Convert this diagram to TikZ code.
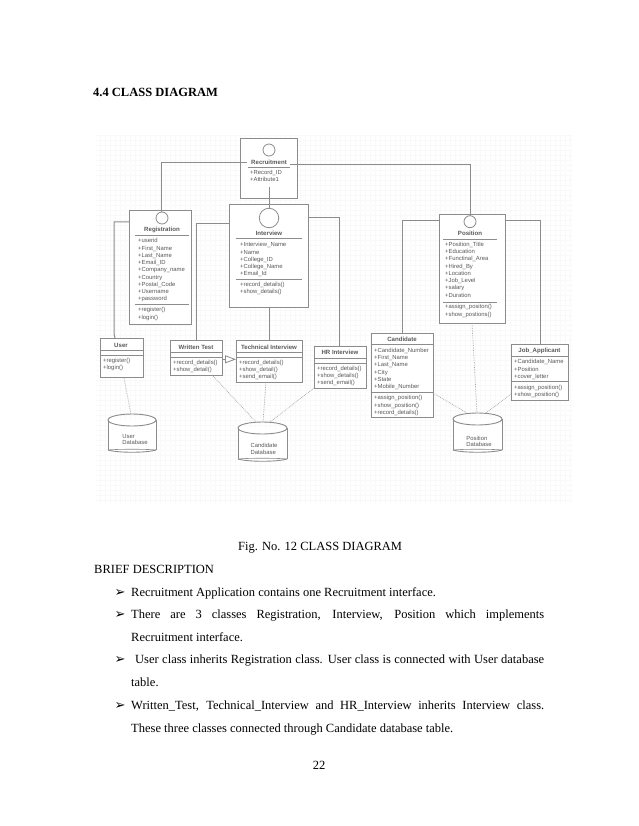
\documentclass[tikz,border=0pt]{standalone}
\usepackage{fontspec}
\setmainfont{Liberation Serif}
\newfontfamily\umlfont{Liberation Sans}
\newfontfamily\dingfont{DejaVu Sans}
\usetikzlibrary{shapes.geometric,arrows.meta}
\definecolor{umlline}{gray}{0.55}
\definecolor{umltext}{gray}{0.35}
\tikzset{
  x=1pt,y=-1pt,
  umlbox/.style={draw=umlline,line width=1pt,fill=white,rectangle,inner sep=0pt,anchor=north west},
  rel/.style={draw=umlline,line width=1pt},
  dep/.style={draw=umlline!80,line width=0.7pt,densely dotted},
  ttl/.style={font=\umlfont\fontsize{6.1}{7}\selectfont\bfseries,text=umltext,inner sep=0pt},
  mem/.style={font=\umlfont\fontsize{5.9}{7.25}\selectfont,text=umltext,inner sep=0pt,anchor=north west,align=left},
  sep/.style={draw=umlline,line width=0.8pt},
  lollipop/.style={circle,draw=umlline,line width=0.8pt,fill=white,inner sep=0pt},
  dbtxt/.style={font=\umlfont\fontsize{5.9}{6.7}\selectfont,text=umltext,inner sep=0pt,align=left},
  body/.style={font=\fontsize{12.5}{15}\selectfont,inner sep=0pt,anchor=base west},
  bul/.style={font=\dingfont\fontsize{13}{15}\selectfont,inner sep=0pt,anchor=base west},
}
\newcommand{\umlcyl}[5]{% name, x, y, w, h
  \fill[white] (#2,#3+6) rectangle (#2+#4,#3+#5);
  \draw[umlline,line width=0.9pt] (#2+#4/2,#3+6) ellipse[x radius=#4/2,y radius=6];
  \draw[umlline,line width=0.9pt] (#2,#3+6) -- (#2,#3+#5-3);
  \draw[umlline,line width=0.9pt] (#2+#4,#3+6) -- (#2+#4,#3+#5-3);
  \draw[umlline,line width=0.6pt] (#2,#3+#5-3) .. controls (#2+#4*0.2,#3+#5-4) and (#2+#4*0.8,#3+#5-4) .. (#2+#4,#3+#5-3);
  \draw[umlline,line width=0.9pt] (#2,#3+#5-3) .. controls (#2+#4*0.2,#3+#5) and (#2+#4*0.8,#3+#5) .. (#2+#4,#3+#5-3);
  \coordinate (#1) at (#2+#4/2,#3);
}
\begin{document}
\begin{tikzpicture}
\useasboundingbox (0,0) rectangle (638,826);
\fill[white] (0,0) rectangle (638,826);
% grid
\draw[gray!5,line width=0.25pt,step=5pt] (96,135) grid (573,503);
% title
\node[body,font=\fontsize{12.5}{15}\selectfont\bfseries] (heading) at (93,97) {4.4 CLASS DIAGRAM};

% boxes
\node[umlbox,minimum width=56.5pt,minimum height=60pt] (rec) at (240,138) {};
\node[umlbox,minimum width=62pt,minimum height=114pt] (reg) at (129,210) {};
\node[umlbox,minimum width=79pt,minimum height=103pt] (int) at (229,204) {};
\node[umlbox,minimum width=66pt,minimum height=109pt] (pos) at (439,214) {};
\node[umlbox,minimum width=43pt,minimum height=39pt] (usr) at (100,338) {};
\node[umlbox,minimum width=52pt,minimum height=35pt] (wt) at (170,340) {};
\node[umlbox,minimum width=66pt,minimum height=42pt] (ti) at (236,340) {};
\node[umlbox,minimum width=52pt,minimum height=42pt] (hr) at (314,346) {};
\node[umlbox,minimum width=62pt,minimum height=84pt] (cand) at (371,333) {};
\node[umlbox,minimum width=57pt,minimum height=56pt] (job) at (511,344) {};

% cylinders
\umlcyl{udb}{108}{414}{48}{39}
\umlcyl{cdb}{238}{422}{49}{40}
\umlcyl{pdb}{453}{413}{49}{40}
\node[dbtxt] (udbt) at (135,439.5) {User\\Database};
\node[dbtxt] (cdbt) at (264,449) {Candidate\\Database};
\node[dbtxt] (pdbt) at (479,441.5) {Position\\Database};

% solid connectors
\draw[rel] (247,163) -- (161,163) -- (161,213);
\draw[rel] (290,165) -- (470,165) -- (470,216);
\draw[rel] (269,187) -- (269,208.5);
\draw[rel] (reg.west |- 0,222) -- (114,222) -- (114,334) -- (115,338);
\draw[rel] (int.west |- 0,224) -- (196,224) -- (196,340);
\draw[rel] (269,307) -- (269,340);
\draw[rel] (int.east |- 0,217.5) -- (339,217.5) -- (339,346);
\draw[rel] (pos.west |- 0,221) -- (402,221) -- (402,333);
\draw[rel] (pos.east |- 0,221) -- (540,221) -- (540,344);

% lollipops
\node[lollipop,minimum size=12pt] (recc) at (269,150) {};
\node[lollipop,minimum size=12pt] (regc) at (162,218) {};
\node[lollipop,minimum size=19.5pt] (intc) at (269,218) {};
\node[lollipop,minimum size=12pt] (posc) at (470,221.7) {};

% dashed connectors
\draw[dep] (usr.south -| 124,0) -- (131,414);
\draw[dep] (212,375) -- (256,422);
\draw[dep] (266,382) -- (263,422);
\draw[dep] (314,388) -- (270,422);
\draw[dep] (433,393) -- (467,413);
\draw[dep] (472,323) -- (477,413);
\draw[dep] (511,394) -- (486,413);

% generalisation
\draw[umlline,line width=0.8pt,-{Triangle[open,length=11pt,width=8pt,fill=white]}] (wt.east |- 0,359.3) -- (ti.west |- 0,359.3);

% class text
\node[ttl] (t1) at (269,162.3) {Recruitment};
\draw[sep] (248,167) -- (290,167);
\node[mem] (m1) at (250,170) {+Record\_ID\\+Attribute1};

\node[ttl] (t2) at (162,230) {Registration};
\draw[sep] (135,235) -- (189,235);
\node[mem] (m2) at (138,238.3) {+userid\\+First\_Name\\+Last\_Name\\+Email\_ID\\+Company\_name\\+Country\\+Postal\_Code\\+Username\\+password};
\draw[sep] (135,304) -- (189,304);
\node[mem] (m2b) at (138,307.3) {+register()\\+login()};

\node[ttl] (t3) at (269,233) {Interview};
\draw[sep] (236,238.7) -- (302,238.7);
\node[mem] (m3) at (240,242.3) {+Interview\_Name\\+Name\\+College\_ID\\+College\_Name\\+Email\_Id};
\draw[sep] (236,279) -- (302,279);
\node[mem] (m3b) at (240,282) {+record\_details()\\+show\_details()};

\node[ttl] (t4) at (470,233.7) {Position};
\draw[sep] (443,239) -- (497,239);
\node[mem] (m4) at (445,242) {+Position\_Title\\+Education\\+Functinal\_Area\\+Hired\_By\\+Location\\+Job\_Level\\+salary\\+Duration};
\draw[sep] (443,302) -- (497,302);
\node[mem] (m4b) at (445,304.3) {+assign\_positon()\\+show\_postions()};

\node[ttl] (t5) at (121,345) {User};
\draw[sep] (100,350) -- (143,350);
\draw[sep] (100,355.7) -- (143,355.7);
\node[mem] (m5) at (103,358) {+register()\\+login()};

\node[ttl] (t6) at (196,347) {Written Test};
\draw[sep] (170,352.3) -- (222,352.3);
\draw[sep] (170,357.3) -- (222,357.3);
\node[mem] (m6) at (173,360) {+record\_details()\\+show\_detail()};

\node[ttl] (t7) at (269,347) {Technical Interview};
\draw[sep] (236,352.3) -- (302,352.3);
\draw[sep] (236,357.3) -- (302,357.3);
\node[mem] (m7) at (239,360) {+record\_details()\\+show\_detail()\\+send\_email()};

\node[ttl] (t8) at (340,352.7) {HR Interview};
\draw[sep] (314,358) -- (366,358);
\draw[sep] (314,363.5) -- (366,363.5);
\node[mem] (m8) at (317,366) {+record\_details()\\+show\_details()\\+send\_email()};

\node[ttl] (t9) at (402,339) {Candidate};
\draw[sep] (371,344.3) -- (433,344.3);
\node[mem] (m9) at (374,348) {+Candidate\_Number\\+First\_Name\\+Last\_Name\\+City\\+State\\+Mobile\_Number};
\draw[sep] (371,392.3) -- (433,392.3);
\node[mem] (m9b) at (374,395.3) {+assign\_position()\\+show\_position()\\+record\_details()};

\node[ttl] (t10) at (539.5,350.7) {Job\_Applicant};
\draw[sep] (511,356.7) -- (568,356.7);
\node[mem] (m10) at (514,359.3) {+Candidate\_Name\\+Position\\+cover\_letter};
\draw[sep] (511,381.7) -- (568,381.7);
\node[mem] (m10b) at (514,385) {+assign\_position()\\+show\_position()};

% caption & body
\node[body] (cap) at (238,550) {Fig. No. 12 CLASS DIAGRAM};
\node[body] (brief) at (94,573) {BRIEF DESCRIPTION};
\node[bul] (b1) at (114.5,596) {➢};
\node[body] (l1) at (131,596) {Recruitment Application contains one Recruitment interface.};
\node[bul] (b2) at (114.5,618) {➢};
\node[body] (l2) at (131,618) {\makebox[413pt][s]{There are 3 classes Registration, Interview, Position which implements}};
\node[body] (l2b) at (131,641) {Recruitment interface.};
\node[bul] (b3) at (114.5,663) {➢};
\node[body] (l3) at (135,663) {\makebox[409pt][s]{User class inherits Registration class. User class is connected with User database}};
\node[body] (l3b) at (131,686) {table.};
\node[bul] (b4) at (114.5,709) {➢};
\node[body] (l4) at (131,709) {\makebox[413pt][s]{Written\_Test, Technical\_Interview and HR\_Interview inherits Interview class.}};
\node[body] (l4b) at (131,732) {These three classes connected through Candidate database table.};
\node[font=\fontsize{12.5}{15}\selectfont,inner sep=0pt,anchor=base] (pg) at (319,769) {22};
\end{tikzpicture}
\end{document}
